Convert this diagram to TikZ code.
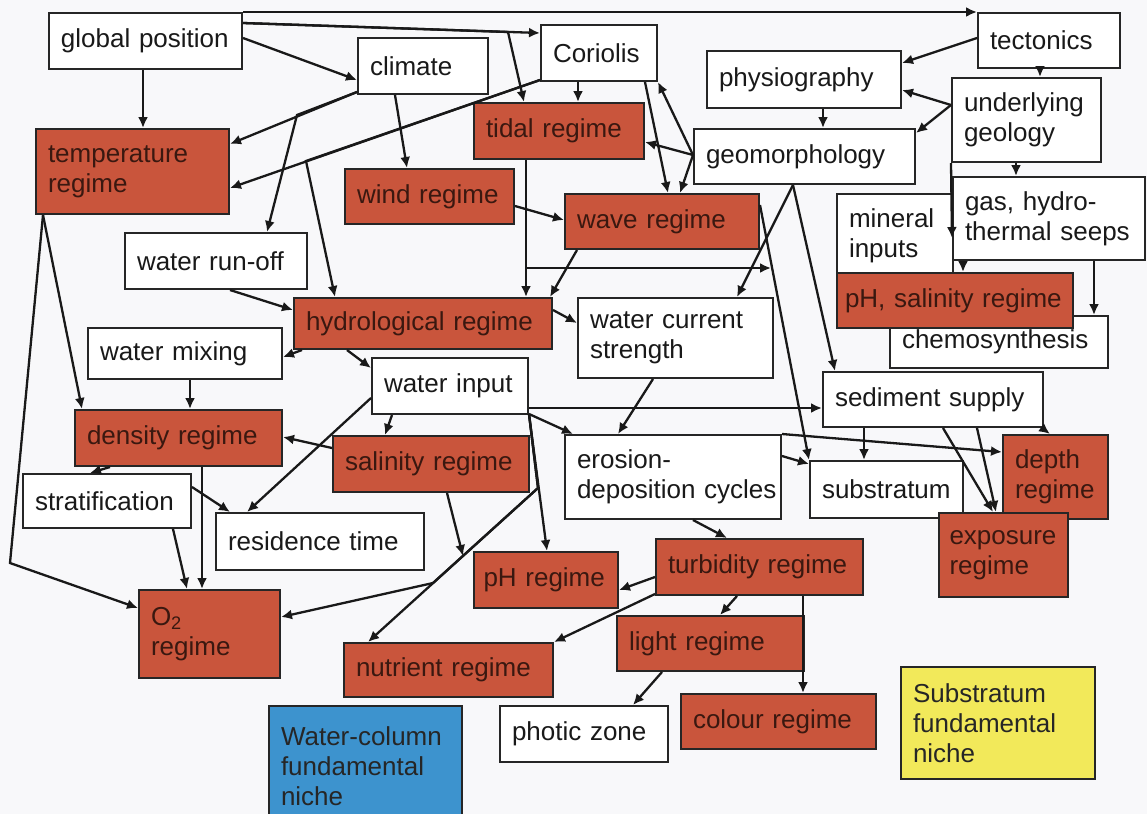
\documentclass[tikz,border=0pt]{standalone}
\usepackage{fontspec}
\setmainfont{Liberation Sans}
\usetikzlibrary{arrows.meta}
\definecolor{bgCol}{HTML}{F8F8FA}
\definecolor{lineCol}{HTML}{262626}
\definecolor{regimeCol}{HTML}{C9553C}
\definecolor{regimeTxt}{HTML}{3A1810}
\definecolor{columnCol}{HTML}{3D93CE}
\definecolor{substrCol}{HTML}{F2E95A}

\begin{document}
\begin{tikzpicture}[x=0.5pt,y=-0.5pt,font=\fontsize{13}{15}\selectfont,
  box/.style={draw=lineCol,line width=1pt,fill=white,anchor=north west,
    align=left,inner xsep=6pt,text=black!90},
  regime/.style={box,fill=regimeCol,text=regimeTxt},
  niche/.style={box,fill=#1,text=black!85},
  conn/.style={-{Latex[length=5.5pt,width=5pt]},line width=1.15pt,draw=black!90},
]
\clip (0,0) rectangle (1147,814);
\fill[bgCol] (0,0) rectangle (1147,814);

\node[box,text width=84.5pt,minimum height=28pt] (gpos) at (48,12) {global position};
\node[box,text width=53pt,minimum height=28pt] (climate) at (357,37) {climate};
\node[box,text width=46pt,minimum height=28pt] (coriolis) at (540,24) {Coriolis};
\node[box,text width=59pt,minimum height=27.5pt] (tecton) at (977,12) {tectonics};
\node[box,text width=85pt,minimum height=28.5pt] (physio) at (706,50) {physiography};
\node[box,text width=62.5pt,minimum height=42pt] (geology) at (951,77) {underlying\\geology};
\node[box,text width=98.5pt,minimum height=27.5pt] (geomorph) at (693,128) {geomorphology};
\node[regime,text width=73pt,minimum height=28pt] (tidal) at (473,102) {tidal regime};
\node[regime,text width=84.5pt,minimum height=42.5pt] (temp) at (35,128) {temperature\\regime};
\node[regime,text width=72.5pt,minimum height=27.5pt] (wind) at (344,168) {wind regime};
\node[regime,text width=85pt,minimum height=27.5pt] (wave) at (564,193) {wave regime};
\node[box,text width=79pt,minimum height=28pt] (runoff) at (124,232) {water run-off};
\node[box,text width=46pt,minimum height=42pt] (mineral) at (836,193) {mineral\\inputs};
\node[box,text width=84pt,minimum height=41.5pt] (gas) at (952,176) {gas, hydro-\\thermal seeps};
\node[box,text width=97pt,minimum height=26pt] (chemo) at (889,315) {chemosynthesis};
\node[regime,text width=110pt,inner xsep=4pt,minimum height=27.5pt] (phsal) at (836,272) {pH, salinity regime};
\node[regime,text width=117pt,minimum height=25.5pt] (hydro) at (293,297) {hydrological regime};
\node[box,text width=85.5pt,minimum height=40pt] (current) at (577,297) {water current\\strength};
\node[box,text width=85pt,minimum height=25.5pt] (mixing) at (87,327) {water mixing};
\node[box,text width=66pt,minimum height=28pt] (input) at (371,357) {water input};
\node[box,text width=98pt,minimum height=27.5pt] (sediment) at (822,371) {sediment supply};
\node[regime,text width=91.5pt,minimum height=28pt] (density) at (74,409) {density regime};
\node[regime,text width=86pt,minimum height=28pt] (salinity) at (332,435) {salinity regime};
\node[box,text width=96pt,minimum height=42pt] (erosion) at (564,434) {erosion-\\\mbox{deposition cycles}};
\node[box,text width=64.5pt,minimum height=28.5pt] (substr) at (809,460) {substratum};
\node[regime,text width=40.5pt,minimum height=42pt] (depth) at (1002,434) {depth\\regime};
\node[regime,text width=54pt,inner xsep=5.25pt,minimum height=42pt] (exposure) at (938,512) {exposure\\regime};
\node[box,text width=72pt,minimum height=27pt] (strat) at (22,473) {stratification};
\node[box,text width=92pt,minimum height=28.5pt] (resid) at (215,512) {residence time};
\node[regime,text width=58.5pt,minimum height=44pt] (otwo) at (138,589) {O\textsubscript{2}\\regime};
\node[regime,text width=62.5pt,inner xsep=4.75pt,minimum height=28pt] (phreg) at (473,551) {pH regime};
\node[regime,text width=91.5pt,minimum height=28pt] (turb) at (655,538) {turbidity regime};
\node[regime,text width=81.5pt,minimum height=27.5pt] (light) at (616,615) {light regime};
\node[regime,text width=92.5pt,minimum height=27pt] (nutrient) at (343,642) {nutrient regime};
\node[box,text width=72pt,minimum height=28pt] (photic) at (499,705) {photic zone};
\node[regime,text width=85.5pt,minimum height=27.5pt] (colour) at (680,693) {colour regime};
\node[niche=columnCol,text width=84.5pt,minimum height=60pt] (wcniche) at (268,705) {Water-column\\fundamental\\niche};
\node[niche=substrCol,text width=85pt,minimum height=56pt] (sbniche) at (900,666) {Substratum\\fundamental\\niche};

\coordinate (gpfork) at (508,32);
\coordinate (clfork) at (297,115);
\coordinate (cofork) at (306,161);
\coordinate (tdfork) at (526,268);
\coordinate (tdjoin) at (771,268);
\coordinate (infork) at (538,488);
\coordinate (o2fork) at (433,583);
\coordinate (sajoin) at (463,556);
\coordinate (tpbend) at (10,563);

\draw[conn] (gpos.north east) -- (tecton.north west);
\draw[conn] ([yshift=-5.5pt]gpos.north east) -- ([yshift=-4.5pt]coriolis.north west);
\draw[conn] ([yshift=-5.5pt]gpos.north east) -- (gpfork) -- ([xshift=25.5pt]tidal.north west);
\draw[conn] ([yshift=-13pt]gpos.north east) -- ([yshift=-21.5pt]climate.north west);
\draw[conn] ([xshift=47.5pt]gpos.south west) -- ([xshift=54pt]temp.north west);
\draw[conn] ([yshift=1.5pt]climate.south west) -- ([yshift=-8pt]temp.north east);
\draw[conn] ([yshift=1.5pt]climate.south west) -- (clfork) -- ([xshift=71.5pt]runoff.north west);
\draw[conn] ([xshift=19pt]climate.south west) -- ([xshift=31.5pt]wind.north west);
\draw[conn] ([yshift=1pt]coriolis.south west) -- ([yshift=-30pt]temp.north east);
\draw[conn] ([yshift=1pt]coriolis.south west) -- (cofork) -- ([xshift=21pt]hydro.north west);
\draw[conn] ([xshift=19pt]coriolis.south west) -- ([xshift=52.5pt]tidal.north west);
\draw[conn] ([xshift=52.5pt]coriolis.south west) -- ([xshift=52pt]wave.north west);
\draw[conn] ([yshift=-13.5pt]geomorph.north west) -- (coriolis.south east);
\draw[conn] ([yshift=-13.5pt]geomorph.north west) -- ([yshift=-20pt]tidal.north east);
\draw[conn] ([yshift=-13.5pt]geomorph.north west) -- ([xshift=58pt]wave.north west);
\draw[conn] ([yshift=-19pt]wind.north east) -- ([yshift=-13.5pt]wave.north west);
\draw[conn] ([yshift=-13pt]tecton.north west) -- ([yshift=-6.5pt]physio.north east);
\draw[conn] ([xshift=31.5pt]tecton.south west) -- ([xshift=44.5pt]geology.north west);
\draw[conn] ([yshift=-14pt]geology.north west) -- ([yshift=-20pt]physio.north east);
\draw[conn] ([yshift=-14pt]geology.north west) -- ([yshift=-2.5pt]geomorph.north east);
\draw[conn] ([xshift=58.5pt]physio.south west) -- ([xshift=65pt]geomorph.north west);
\draw[conn] ([xshift=32.5pt]geology.south west) -- ([xshift=32pt]gas.north west);
\draw[conn] (geology.south west) -- ([yshift=-31pt]gas.north west);
\draw[conn] ([xshift=5.5pt]gas.south west) -- ([xshift=63.5pt]phsal.north west);
\draw[conn] ([xshift=71pt]gas.south west) -- ([xshift=102.5pt]chemo.north west);
\draw[conn] ([xshift=26.5pt]tidal.south west) -- ([xshift=116.5pt]hydro.north west);
\draw[conn] ([xshift=26.5pt]tidal.south west) -- (tdfork) -- (tdjoin);
\draw[conn] ([yshift=-6pt]wave.north east) -- (substr.north west);
\draw[conn] ([xshift=6.5pt]wave.south west) -- ([xshift=-1.5pt]hydro.north east);
\draw[conn] ([xshift=53pt]runoff.south west) -- ([yshift=-6.5pt]hydro.north west);
\draw[conn] ([xshift=4.5pt]hydro.south west) -- ([yshift=-15pt]mixing.north east);
\draw[conn] ([xshift=27pt]hydro.south west) -- ([yshift=-5.5pt]input.north west);
\draw[conn] ([yshift=-6.5pt]hydro.north east) -- ([yshift=-13pt]current.north west);
\draw[conn] ([xshift=50pt]geomorph.south west) -- ([xshift=80pt]current.north west);
\draw[conn] ([xshift=50pt]geomorph.south west) -- ([xshift=6.5pt]sediment.north west);
\draw[conn] ([xshift=38pt]current.south west) -- ([xshift=27pt]erosion.north west);
\draw[conn] ([yshift=-25.5pt]input.north east) -- ([yshift=-18.5pt]sediment.north west);
\draw[conn] ([yshift=0.5pt]input.south east) -- ([xshift=4.5pt]erosion.north west);
\draw[conn] ([yshift=0.5pt]input.south east) -- ([xshift=37pt]phreg.north west);
\draw[conn] ([yshift=0.5pt]input.south east) -- (infork) -- ([xshift=12.5pt]nutrient.north west);
\draw[conn] ([yshift=0.5pt]input.south east) -- (infork) -- (o2fork) -- ([yshift=-14pt]otwo.north east);
\draw[conn] ([yshift=-20.5pt]input.north west) -- ([xshift=16pt]resid.north west);
\draw[conn] ([xshift=10.5pt]input.south west) -- ([xshift=26.5pt]salinity.north west);
\draw[conn] ([yshift=-6.5pt]salinity.north west) -- ([yshift=-14pt]density.north east);
\draw[conn] ([xshift=57.5pt]salinity.south west) -- (sajoin);
\draw[conn] ([xshift=51.5pt]mixing.south west) -- ([xshift=58pt]density.north west);
\draw[conn] ([xshift=4pt]temp.south west) -- ([xshift=4pt]density.north west);
\draw[conn] ([xshift=4pt]temp.south west) -- (tpbend) -- ([yshift=-9.5pt]otwo.north west);
\draw[conn] ([xshift=18pt]density.south west) -- ([xshift=34pt]strat.north west);
\draw[conn] ([xshift=64pt]density.south west) -- ([xshift=32pt]otwo.north west);
\draw[conn] ([yshift=-7pt]strat.north east) -- ([xshift=7.5pt]resid.north west);
\draw[conn] ([xshift=75.5pt]strat.south west) -- ([xshift=24.5pt]otwo.north west);
\draw[conn] ([xshift=64.5pt]erosion.south west) -- ([xshift=36pt]turb.north west);
\draw[conn] ([yshift=-11pt]erosion.north east) -- ([yshift=-2pt]substr.north west);
\draw[conn] (erosion.north east) -- ([yshift=-9pt]depth.north west);
\draw[conn] ([xshift=21pt]sediment.south west) -- ([xshift=27.5pt]substr.north west);
\draw[conn] ([xshift=60.5pt]sediment.south west) -- ([xshift=27.5pt]exposure.north west);
\draw[conn] ([xshift=77.5pt]sediment.south west) -- ([xshift=29pt]exposure.north west);
\draw[conn] ([xshift=-1pt]sediment.south east) -- ([xshift=24pt]depth.north west);
\draw[conn] ([yshift=-19.5pt]turb.north west) -- ([yshift=-19.5pt]phreg.north east);
\draw[conn] ([yshift=1pt]turb.south west) -- (nutrient.north east);
\draw[conn] ([xshift=41pt]turb.south west) -- ([xshift=52pt]light.north west);
\draw[conn] ([xshift=74pt]turb.south west) -- ([xshift=61.5pt]colour.north west);
\draw[conn] ([xshift=23pt]light.south west) -- ([xshift=67pt]photic.north west);

\end{tikzpicture}
\end{document}
